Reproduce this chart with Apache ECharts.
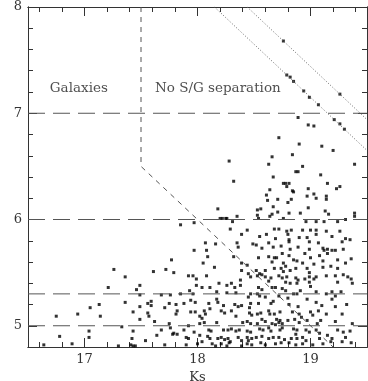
<!DOCTYPE html>
<html>
<head>
<meta charset="utf-8">
<script src="https://cdn.jsdelivr.net/npm/echarts@6/dist/echarts.min.js"></script>
<style>
  html, body { margin: 0; padding: 0; background: #fff; }
  #main { width: 368px; height: 381px; }
</style>
</head>
<body>
<div id="main"></div>
<script>
// axis limits (Ks, R-Ks)
const ksRange = [16.5, 19.5];
const rksRange = [4.8, 8];

// horizontal colour cuts
const cutLevels = [7, 6, 5.3, 5];

// S/G separation boundary (vertical then diagonal)
const sepBoundary = [[17.5, 8], [17.5, 6.5], [19.2, 4.8]];

// saturation limits (dotted)
const satLimits = [
  [[18.15, 8], [19.5, 6.65]],
  [[18.44, 8], [19.5, 6.94]]
];

// stars sitting on the saturation limits
const satPoints = [
  [18.76, 7.68], [19.26, 7.18], [18.79, 7.36], [18.82, 7.34], [18.85, 7.30], [18.94, 7.21],
  [18.99, 7.15], [19.07, 7.08], [19.21, 6.94], [19.26, 6.90], [19.30, 6.85]
];

const upperPoints = [
  [18.89, 6.96], [18.98, 6.89], [19.03, 6.88], [18.72, 6.77], [18.90, 6.71], [19.10, 6.69], [19.20, 6.65],
  [18.84, 6.61], [18.66, 6.59], [18.28, 6.55], [18.63, 6.52], [18.93, 6.50], [19.39, 6.52], [18.87, 6.45],
  [18.89, 6.45], [18.67, 6.40], [19.09, 6.42], [18.32, 6.36], [18.76, 6.34], [18.78, 6.34], [18.81, 6.34],
  [18.79, 6.31], [19.15, 6.34], [19.23, 6.29], [19.26, 6.31], [18.64, 6.28], [18.98, 6.29], [18.84, 6.27],
  [18.85, 6.26], [18.61, 6.23], [19.03, 6.24], [18.97, 6.22], [19.14, 6.22], [19.14, 6.19], [19.05, 6.20],
  [18.62, 6.18], [18.71, 6.19], [18.83, 6.19], [18.80, 6.16], [18.67, 6.12], [18.98, 6.11], [18.56, 6.10],
  [18.53, 6.09], [19.13, 6.08], [18.71, 6.07], [18.81, 6.06], [18.91, 6.06], [19.16, 6.05], [19.39, 6.06],
  [19.39, 6.03], [18.53, 6.04], [18.66, 6.05], [18.64, 6.03], [18.54, 6.01], [18.76, 6.01], [18.96, 5.98],
  [19.05, 5.98], [19.12, 5.98], [19.24, 5.98], [19.31, 6.00], [18.18, 6.10], [18.20, 6.01], [18.22, 6.01],
  [18.25, 6.01], [18.26, 6.01], [18.35, 6.03], [17.97, 5.97], [18.31, 5.98]
];

const leftPoints = [
  [17.26, 5.53], [17.36, 5.46], [17.21, 5.36], [17.49, 5.38], [17.46, 5.34], [17.49, 5.29], [17.13, 5.20],
  [17.05, 5.17], [17.36, 5.22], [17.49, 5.18], [17.43, 5.13], [16.75, 5.09], [16.94, 5.11], [17.14, 5.09],
  [17.49, 5.06], [17.33, 4.99], [17.04, 4.95], [17.43, 4.95], [16.78, 4.90], [17.04, 4.89], [17.42, 4.88],
  [16.64, 4.82], [16.89, 4.83], [17.30, 4.81], [17.41, 4.82], [17.43, 4.81], [17.45, 4.81]
];

const midPoints = [
  [17.85, 5.95], [18.29, 5.91], [18.44, 5.90], [18.39, 5.86], [18.07, 5.78], [18.16, 5.77], [18.35, 5.78],
  [18.36, 5.74], [18.49, 5.77], [17.97, 5.71], [18.08, 5.71], [18.09, 5.65], [18.32, 5.65], [17.77, 5.62],
  [18.05, 5.59], [18.39, 5.59], [18.15, 5.55], [18.44, 5.57], [17.72, 5.53], [17.61, 5.51], [17.79, 5.50],
  [18.39, 5.52], [18.45, 5.49], [18.47, 5.46], [17.92, 5.47], [17.96, 5.47], [17.99, 5.44], [18.08, 5.47],
  [17.99, 5.38], [18.04, 5.36], [18.11, 5.36], [18.19, 5.40], [18.26, 5.38], [18.30, 5.40], [18.38, 5.43],
  [18.33, 5.36], [18.38, 5.38], [17.93, 5.33], [17.96, 5.30], [17.68, 5.29], [17.76, 5.29], [17.85, 5.30],
  [18.17, 5.32], [18.26, 5.31], [18.34, 5.31], [18.47, 5.30], [18.45, 5.27], [17.56, 5.21], [17.59, 5.23],
  [17.59, 5.19], [17.75, 5.21], [17.81, 5.20], [17.88, 5.21], [17.94, 5.24], [17.98, 5.22], [18.10, 5.21],
  [18.17, 5.25], [18.18, 5.22], [18.23, 5.19], [18.33, 5.20], [18.39, 5.19], [18.36, 5.18], [18.47, 5.21],
  [18.46, 5.17], [17.71, 5.17], [17.82, 5.14], [17.94, 5.13], [17.98, 5.13], [18.06, 5.14], [18.11, 5.16],
  [18.21, 5.14], [18.24, 5.12], [18.30, 5.14], [18.46, 5.12], [18.48, 5.10], [17.56, 5.12], [17.57, 5.09],
  [17.81, 5.11], [18.02, 5.09], [18.07, 5.11], [18.34, 5.09], [17.62, 5.04], [18.04, 5.07], [18.02, 5.02],
  [18.06, 5.03], [18.17, 5.03], [18.40, 5.03], [18.44, 5.04], [18.47, 5.02], [17.75, 5.02], [17.92, 5.00],
  [17.68, 4.96], [17.76, 4.98], [17.79, 4.93], [17.82, 4.92], [17.78, 4.92], [17.88, 4.96], [17.97, 4.94],
  [18.10, 4.96], [18.12, 4.95], [18.23, 4.96], [18.27, 4.96], [18.30, 4.97], [18.34, 4.95], [18.37, 4.96],
  [18.44, 4.95], [18.47, 4.94], [17.64, 4.91], [17.90, 4.89], [17.92, 4.88], [18.02, 4.91], [18.09, 4.90],
  [18.11, 4.88], [18.18, 4.88], [18.21, 4.89], [18.24, 4.87], [18.27, 4.88], [18.29, 4.85], [18.36, 4.89],
  [18.39, 4.86], [18.44, 4.89], [18.45, 4.86], [18.48, 4.88], [17.54, 4.86], [17.71, 4.82], [17.90, 4.82],
  [18.00, 4.83], [18.04, 4.85], [18.13, 4.83], [18.16, 4.81], [18.21, 4.83], [18.26, 4.81], [18.28, 4.84],
  [18.39, 4.81], [18.44, 4.83], [18.48, 4.82]
];

const rightPoints = [
  [18.68, 5.91], [18.72, 5.91], [18.83, 5.90], [18.93, 5.90], [19.00, 5.90], [19.05, 5.90], [19.14, 5.89],
  [19.26, 5.89], [18.79, 5.89], [18.80, 5.86], [18.61, 5.86], [19.05, 5.86], [18.97, 5.83], [18.90, 5.83],
  [18.81, 5.81], [18.81, 5.79], [18.69, 5.82], [18.55, 5.84], [19.19, 5.84], [19.31, 5.82], [19.28, 5.79],
  [18.52, 5.76], [18.63, 5.78], [18.99, 5.79], [19.07, 5.78], [19.35, 5.81],
  [18.57, 5.73], [18.67, 5.74], [18.74, 5.75], [18.82, 5.72], [18.89, 5.74], [18.99, 5.72], [19.11, 5.73],
  [19.12, 5.71], [19.15, 5.72], [19.19, 5.71], [19.22, 5.71], [19.29, 5.72], [18.75, 5.68], [18.81, 5.66],
  [18.95, 5.68], [19.08, 5.66], [19.15, 5.68], [18.54, 5.64], [18.63, 5.65], [18.68, 5.64], [18.70, 5.64],
  [18.85, 5.62], [18.88, 5.61], [19.00, 5.64], [19.11, 5.61], [19.24, 5.62], [19.36, 5.63], [18.66, 5.60],
  [18.76, 5.59], [18.78, 5.56], [18.93, 5.59], [19.03, 5.58], [19.18, 5.56], [19.31, 5.59],
  [18.52, 5.52], [18.55, 5.49], [18.57, 5.48], [18.53, 5.47], [18.60, 5.52], [18.68, 5.54], [18.74, 5.54],
  [18.76, 5.51], [18.82, 5.52], [18.87, 5.54], [18.97, 5.54], [18.99, 5.50], [19.11, 5.55], [19.24, 5.54],
  [18.60, 5.46], [18.65, 5.45], [18.72, 5.47], [18.75, 5.45], [18.79, 5.46], [18.87, 5.45], [18.89, 5.43],
  [18.95, 5.44], [18.99, 5.46], [19.03, 5.44], [19.05, 5.46], [19.14, 5.47], [19.22, 5.47], [19.29, 5.48],
  [19.33, 5.46], [19.36, 5.44], [18.63, 5.42], [18.78, 5.41], [18.82, 5.40], [18.88, 5.40], [18.99, 5.41],
  [19.24, 5.41], [19.37, 5.40],
  [18.54, 5.36], [18.57, 5.34], [18.66, 5.36], [18.69, 5.36], [18.75, 5.35], [18.78, 5.33], [18.85, 5.30],
  [18.88, 5.30], [18.91, 5.33], [19.00, 5.37], [19.05, 5.32], [19.14, 5.30], [19.19, 5.32], [19.22, 5.28],
  [19.27, 5.32], [18.53, 5.30], [18.55, 5.28], [18.60, 5.27], [18.72, 5.28], [18.80, 5.26], [18.97, 5.25],
  [19.05, 5.22], [19.19, 5.25], [18.54, 5.21], [18.65, 5.21], [18.67, 5.23], [18.81, 5.20], [18.89, 5.18],
  [19.10, 5.19], [19.22, 5.18], [19.32, 5.20],
  [18.53, 5.11], [18.56, 5.12], [18.63, 5.14], [18.64, 5.11], [18.68, 5.11], [18.73, 5.13], [18.84, 5.13],
  [18.90, 5.11], [18.92, 5.08], [19.00, 5.13], [19.02, 5.10], [19.07, 5.14], [19.14, 5.11], [19.28, 5.11],
  [18.57, 5.06], [18.60, 5.04], [18.70, 5.06], [18.73, 5.05], [18.80, 5.05], [18.86, 5.06], [18.97, 5.05],
  [19.09, 5.05], [19.22, 5.04], [18.53, 5.02], [18.66, 5.02], [18.69, 5.01], [18.72, 5.03], [18.75, 5.02],
  [18.90, 5.03], [19.06, 5.02], [19.37, 5.02],
  [18.55, 4.97], [18.58, 4.96], [18.63, 4.98], [18.65, 4.95], [18.73, 4.96], [18.75, 4.98], [18.85, 4.97],
  [18.88, 4.96], [18.87, 4.92], [18.96, 4.96], [18.99, 4.94], [19.05, 4.96], [19.08, 4.93], [19.15, 4.91],
  [19.24, 4.96], [19.29, 4.94], [19.35, 4.95], [18.52, 4.89], [18.57, 4.90], [18.63, 4.88], [18.67, 4.89],
  [18.72, 4.89], [18.77, 4.87], [18.83, 4.88], [18.88, 4.88], [18.93, 4.89], [18.96, 4.86], [19.08, 4.88],
  [19.19, 4.88], [19.31, 4.89], [18.56, 4.84], [18.60, 4.82], [18.69, 4.83], [18.74, 4.84], [18.81, 4.84],
  [18.87, 4.82], [18.93, 4.83], [19.02, 4.82], [19.11, 4.83], [19.18, 4.85], [19.28, 4.85], [19.36, 4.84]
];

// region annotations
const regionLabels = [
  { text: 'Galaxies', at: [16.95, 7.23] },
  { text: 'No S/G separation', at: [18.18, 7.23] }
];

const axisColor = '#333';
const lineColor = '#555';
const font = 'DejaVu Serif';

const intLabel = v => (Math.abs(v - Math.round(v)) < 1e-6 ? String(Math.round(v)) : '');

function makeAxis(pos, range, step, tickLen, withLabels, extra) {
  return Object.assign({
    type: 'value',
    position: pos,
    min: range[0],
    max: range[1],
    minInterval: step,
    maxInterval: step,
    axisLine: { show: true, onZero: false, lineStyle: { color: axisColor, width: 1 } },
    axisTick: { show: true, inside: true, length: tickLen, lineStyle: { color: '#333', width: 1 } },
    axisLabel: {
      show: withLabels,
      color: '#333',
      fontFamily: font,
      fontSize: 13,
      margin: 6,
      formatter: intLabel
    },
    splitLine: { show: false }
  }, extra || {});
}

const chart = echarts.init(document.getElementById('main'));

const series = [];

cutLevels.forEach(lv => {
  series.push({
    type: 'line',
    data: [[ksRange[0], lv], [ksRange[1], lv]],
    symbol: 'none',
    silent: true,
    lineStyle: { color: lineColor, width: 1, type: [17, 8] }
  });
});

series.push({
  type: 'line',
  data: sepBoundary,
  symbol: 'none',
  silent: true,
  lineStyle: { color: lineColor, width: 1, type: [5, 5] }
});

satLimits.forEach(seg => {
  series.push({
    type: 'line',
    data: seg,
    symbol: 'none',
    silent: true,
    lineStyle: { color: '#666', width: 1, type: [1, 2] }
  });
});

series.push({
  type: 'scatter',
  data: [].concat(satPoints, upperPoints, leftPoints, midPoints, rightPoints),
  symbol: 'rect',
  symbolSize: 3,
  itemStyle: { color: '#000' },
  silent: true
});

series.push({
  type: 'scatter',
  data: regionLabels.map(r => ({ value: r.at, name: r.text })),
  symbolSize: 0,
  silent: true,
  label: {
    show: true,
    position: 'inside',
    formatter: p => p.name,
    color: '#222',
    fontFamily: font,
    fontSize: 13.5
  }
});

chart.setOption({
  animation: false,
  grid: { left: 28, right: 1, top: 7, bottom: 34, outerBoundsMode: 'none' },
  xAxis: [
    makeAxis('bottom', ksRange, 1, 9, true, {
      name: 'Ks', nameLocation: 'middle', nameGap: 22,
      nameTextStyle: { fontFamily: font, fontSize: 13, color: '#333' }
    }),
    makeAxis('bottom', ksRange, 0.2, 5, false),
    makeAxis('top', ksRange, 1, 9, false),
    makeAxis('top', ksRange, 0.2, 5, false)
  ],
  yAxis: [
    makeAxis('left', rksRange, 1, 9, true, {
      name: 'R\u2212Ks', nameLocation: 'middle', nameGap: 14, nameRotate: 90,
      nameTextStyle: { fontFamily: font, fontSize: 13, color: '#333' }
    }),
    makeAxis('left', rksRange, 0.2, 5, false),
    makeAxis('right', rksRange, 1, 9, false),
    makeAxis('right', rksRange, 0.2, 5, false)
  ],
  series: series
});
</script>
</body>
</html>
